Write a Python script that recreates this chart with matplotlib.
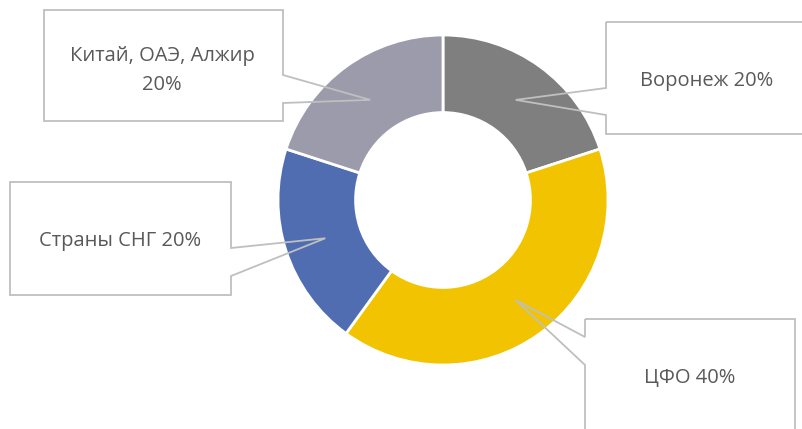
import numpy as np
import matplotlib
matplotlib.use("Agg")
import matplotlib.pyplot as plt
from matplotlib.patches import Polygon

labels = ["Воронеж", "ЦФО", "Страны СНГ", "Китай, ОАЭ, Алжир"]
values = [20, 40, 20, 20]
colors = ["#7f7f7f", "#f2c300", "#506db2", "#9b9bab"]
label_texts = ["Воронеж 20%", "ЦФО 40%", "Страны СНГ 20%", "Китай, ОАЭ, Алжир\n20%"]

W, H = 803, 429
fig = plt.figure(figsize=(W / 100, H / 100), dpi=100)
ax = fig.add_axes([0, 0, 1, 1])

cx, cy, R = 443, H - 200, 165
wedges, _ = ax.pie(values, colors=colors, startangle=90, counterclock=False,
                   center=(cx, cy), radius=R, frame=True,
                   wedgeprops=dict(width=R * 0.47, edgecolor="white", linewidth=2))
ax.set_xlim(0, W)
ax.set_ylim(0, H)
ax.set_aspect("auto")
ax.axis("off")

# callout boxes in pixel coordinates (x0, y0top, x1, y1bottom, side, notch y0, notch y1, text x, text y)
boxes = [
    (606, 22, 840, 134, "left", 88, 115, 707, 81),
    (585, 319, 795, 460, "left", 337, 365, 690, 378),
    (10, 182, 231, 295, "right", 248, 276, 120, 241),
    (44, 10, 283, 121, "right", 75, 103, 162, 70),
]

for w, txt, b in zip(wedges, label_texts, boxes):
    mid = np.deg2rad((w.theta1 + w.theta2) / 2)
    tip = (cx + 0.75 * R * np.cos(mid), cy + 0.75 * R * np.sin(mid))
    x0, y0, x1, y1, side, n0, n1, tx, ty = b
    Y = lambda v: H - v
    if side == "right":
        pts = [(x0, Y(y0)), (x1, Y(y0)), (x1, Y(n0)), tip, (x1, Y(n1)), (x1, Y(y1)), (x0, Y(y1))]
    else:
        pts = [(x0, Y(y0)), (x1, Y(y0)), (x1, Y(y1)), (x0, Y(y1)), (x0, Y(n1)), tip, (x0, Y(n0))]
    ax.add_patch(Polygon(pts, closed=True, fill=False, edgecolor="#bfbfbf",
                         linewidth=1.3, zorder=5, clip_on=True))
    ax.text(tx, Y(ty), txt, ha="center", va="center", color="#595959",
            fontsize=14.5, family="Open Sans", linespacing=1.6, zorder=6)

fig.savefig("out.png", dpi=100)
